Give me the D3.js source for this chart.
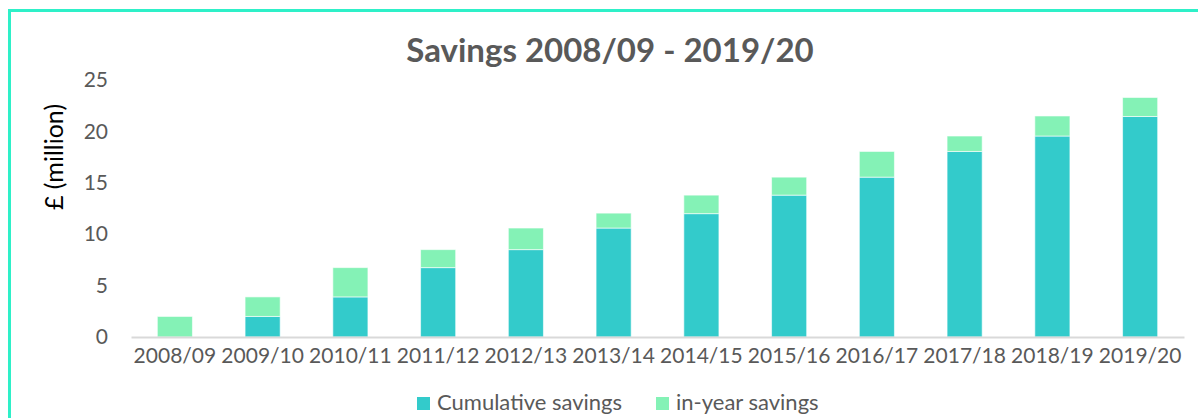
<!DOCTYPE html>
<html>
<head>
<meta charset="utf-8">
<script src="https://cdn.jsdelivr.net/npm/d3@7"></script>
<style>
  body { margin: 0; background: #fff; }
  svg { display: block; }
  svg text { font-family: Lato, "Open Sans", sans-serif; }
</style>
</head>
<body>
<div id="chart"></div>
<script>
// years on the x axis
const years = ['2008/09','2009/10','2010/11','2011/12','2012/13','2013/14',
  '2014/15','2015/16','2016/17','2017/18','2018/19','2019/20'];
// £ million
const cumulative = [0, 2.0, 3.9, 6.75, 8.5, 10.6, 12.0, 13.8, 15.55, 18.05, 19.55, 21.45];
const inYear = [2.0, 1.9, 2.85, 1.75, 2.1, 1.45, 1.8, 1.75, 2.5, 1.5, 1.95, 1.85];
const yTicks = [0, 5, 10, 15, 20, 25];
const seriesNames = ['Cumulative savings', 'in-year savings'];

const W = 1198, H = 418;
const margin = {top: 80, right: 14, bottom: 81, left: 131};

const svg = d3.select('#chart')
  .append('svg')
  .attr('width', W)
  .attr('height', H);

// outer border, runs off the right and bottom
svg.append('rect')
  .attr('x', 9.5).attr('y', 10.5)
  .attr('width', W).attr('height', H)
  .attr('fill', 'none')
  .attr('stroke', '#2ef0c8')
  .attr('stroke-width', 3);

const colors = d3.scaleOrdinal()
  .domain(seriesNames)
  .range(['#33cbcb', '#84f2b6']);

const x = d3.scaleBand()
  .domain(years)
  .range([margin.left, W - margin.right])
  .paddingInner(0.6)
  .paddingOuter(0.3);

const y = d3.scaleLinear()
  .domain([0, 25])
  .range([H - margin.bottom, margin.top]);

const table = years.map((yr, i) => ({
  year: yr,
  'Cumulative savings': cumulative[i],
  'in-year savings': inYear[i]
}));

const stacked = d3.stack().keys(seriesNames)(table);

svg.append('g')
  .selectAll('g')
  .data(stacked)
  .enter()
  .append('g')
  .attr('fill', d => colors(d.key))
  .selectAll('rect')
  .data(d => d)
  .enter()
  .append('rect')
  .attr('x', d => x(d.data.year))
  .attr('y', d => y(d[1]))
  .attr('width', x.bandwidth())
  .attr('height', d => Math.max(0, y(d[0]) - y(d[1])))
  .attr('stroke', 'rgba(255,255,255,0.6)')
  .attr('stroke-width', 1);

// x axis
const xAxis = svg.append('g')
  .attr('transform', `translate(0,${H - margin.bottom})`)
  .call(d3.axisBottom(x).tickSize(0).tickPadding(11));
xAxis.attr('font-family', null);
xAxis.select('.domain').attr('stroke', '#d9d9d9').attr('stroke-width', 2);
xAxis.selectAll('text')
  .attr('fill', '#595959')
  .style('font-size', '21px')
  .attr('dy', '0.71em');

// y axis
const yAxis = svg.append('g')
  .attr('transform', `translate(${margin.left},0)`)
  .call(d3.axisLeft(y).tickValues(yTicks).tickSize(0).tickPadding(23));
yAxis.attr('font-family', null);
yAxis.select('.domain').remove();
yAxis.selectAll('text')
  .attr('fill', '#595959')
  .style('font-size', '21px');

// title
svg.append('text')
  .attr('x', 610)
  .attr('y', 62)
  .attr('text-anchor', 'middle')
  .attr('fill', '#595959')
  .style('font-size', '33px')
  .style('font-weight', 'bold')
  .text('Savings 2008/09 - 2019/20');

// y axis title
svg.append('text')
  .attr('transform', 'translate(63,157) rotate(-90)')
  .attr('text-anchor', 'middle')
  .attr('fill', '#000')
  .style('font-size', '25px')
  .text('£ (million)');

// legend
const legendX = [417, 656];
const legend = svg.append('g')
  .selectAll('.legend')
  .data(seriesNames)
  .enter()
  .append('g')
  .classed('legend', true)
  .attr('transform', (d, i) => `translate(${legendX[i]},397)`);

legend.append('rect')
  .attr('width', 13)
  .attr('height', 13)
  .attr('fill', d => colors(d));

legend.append('text')
  .attr('x', 20)
  .attr('y', 12.5)
  .attr('fill', '#595959')
  .style('font-size', '22px')
  .text(d => d);
</script>
</body>
</html>
